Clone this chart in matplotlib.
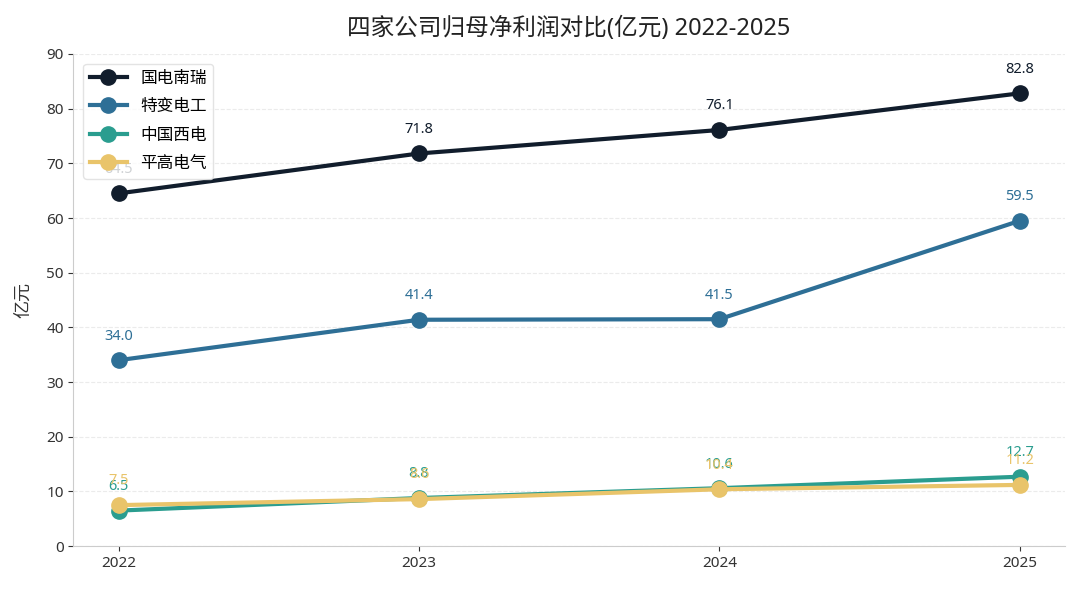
import matplotlib
matplotlib.use('Agg')
import matplotlib.pyplot as plt

plt.rcParams['font.family'] = ['Noto Sans', 'Noto Sans CJK SC', 'DejaVu Sans']

# 数据 (亿元)
years = [2022, 2023, 2024, 2025]
companies = ['国电南瑞', '特变电工', '中国西电', '平高电气']
nari = [64.5, 71.8, 76.1, 82.8]
tbea = [34.0, 41.4, 41.5, 59.5]
xidian = [6.5, 8.8, 10.6, 12.7]
pinggao = [7.5, 8.6, 10.4, 11.2]
colors = ['#111d2c', '#2e6f96', '#2a9d8f', '#e9c46a']

series = [nari, tbea, xidian, pinggao]

fig, ax = plt.subplots(figsize=(10.8, 5.93), dpi=100)

for name, vals, c in zip(companies, series, colors):
    ax.plot(years, vals, marker='o', color=c, linewidth=3, markersize=11, label=name)
    for x, y in zip(years, vals):
        ax.annotate(f'{y:.1f}', (x, y), textcoords='offset points', xytext=(0, 12),
                    ha='center', va='bottom', color=c, fontsize=10.5)

ax.set_ylim(0, 90)
ax.set_xticks(years)
ax.set_xticklabels([str(y) for y in years])
ax.set_ylabel('亿元', fontsize=13, color='#333333', labelpad=10)
ax.set_title('四家公司归母净利润对比(亿元) 2022-2025', fontsize=17, pad=14, color='#222222')
ax.grid(axis='y', linestyle='--', color='#e6e6e6', alpha=0.8)
ax.spines['top'].set_visible(False)
ax.spines['right'].set_visible(False)
ax.spines['left'].set_color('#cccccc')
ax.spines['bottom'].set_color('#cccccc')
ax.tick_params(labelsize=11, colors='#333333')
ax.legend(loc='upper left', fontsize=12, framealpha=0.8, edgecolor='#dddddd',
          borderaxespad=0.6, handlelength=2.2, labelspacing=0.75)

plt.subplots_adjust(left=0.068, right=0.986, top=0.909, bottom=0.079)
plt.savefig('out.png')
